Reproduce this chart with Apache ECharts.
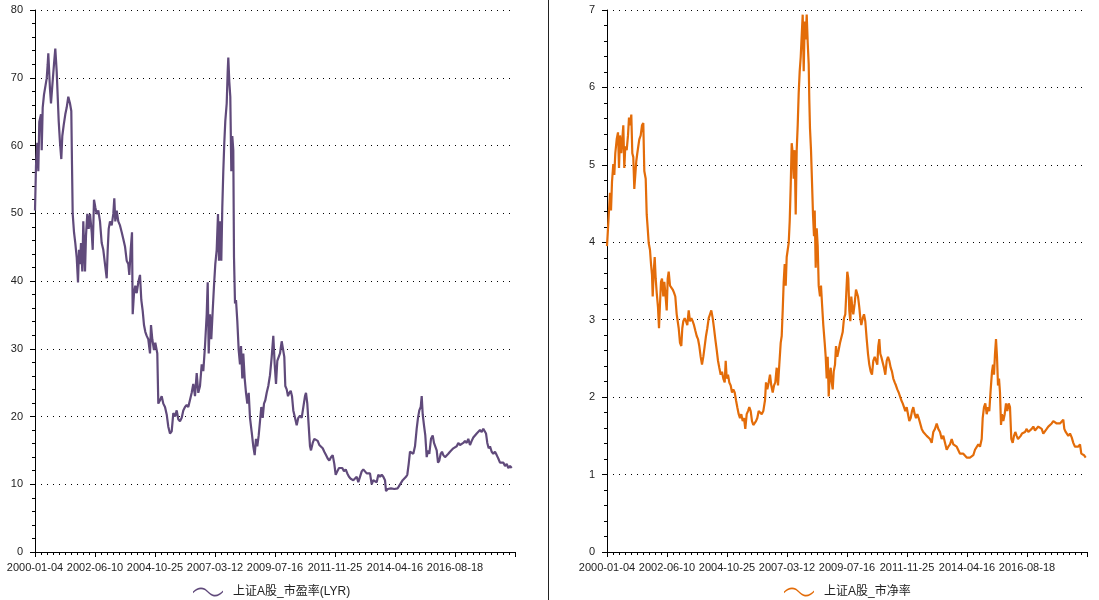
<!DOCTYPE html>
<html><head><meta charset="utf-8">
<script src="https://cdn.jsdelivr.net/npm/echarts@6/dist/echarts.min.js"></script>
<style>html,body{margin:0;padding:0;background:#fff}#c{width:1099px;height:600px}</style>
</head><body><div id="c"></div>
<script>
// x tick labels (trading-day index axis, one label every 600 units)
const tickLabels = ['2000-01-04','2002-06-10','2004-10-25','2007-03-12','2009-07-16','2011-11-25','2014-04-16','2016-08-18'];
const peName = '上证A股_市盈率(LYR)';
const pbName = '上证A股_市净率';
const peColor = '#604A7B';
const pbColor = '#E36C09';

// [time index, PE]
const peData = [[0,50.4],[10,57],[23,60.4],[33,56.2],[43,63.5],[60,64.6],[67,59.3],[77,65.6],[90,67.5],[107,67.7],[117,69.9],[127,72.0],[133,73.6],[143,73.6],[150,68.3],[160,66.2],[173,68.8],[190,72.0],[203,74.3],[217,70.9],[227,71.0],[237,63.6],[250,60.4],[263,58.0],[273,61.4],[287,63.0],[303,64.6],[317,65.6],[333,67.2],[350,66.2],[363,65.1],[370,57.2],[377,49.9],[390,47.2],[403,45.6],[417,43.5],[430,39.8],[440,44.6],[450,42.5],[460,45.6],[473,41.4],[483,48.8],[500,41.4],[510,46.7],[523,49.9],[537,47.7],[550,49.9],[567,47.2],[577,44.6],[590,52.0],[603,50.9],[617,49.9],[633,50.4],[650,48.8],[667,45.6],[683,44.6],[700,42.5],[717,40.4],[727,44.6],[737,47.7],[750,48.8],[767,48.2],[783,49.9],[793,52.2],[803,48.8],[817,50.4],[833,48.8],[850,48.2],[867,47.2],[883,46.2],[900,45.1],[917,43.0],[933,42.5],[943,40.9],[957,44.6],[970,47.2],[977,35.1],[990,38.2],[1003,39.3],[1017,38.2],[1033,39.8],[1050,40.9],[1063,37.2],[1077,35.6],[1090,33.5],[1103,32.5],[1117,31.9],[1133,31.4],[1150,29.3],[1160,33.5],[1173,31.4],[1190,29.8],[1203,30.9],[1223,29.3],[1233,21.9],[1250,22.4],[1267,23.0],[1283,21.9],[1300,21.4],[1317,20.3],[1333,18.5],[1350,17.5],[1367,17.8],[1383,20.5],[1400,20.0],[1417,20.9],[1433,19.6],[1450,19.3],[1467,19.8],[1483,20.9],[1500,21.4],[1517,21.7],[1533,21.4],[1550,21.5],[1567,23.5],[1583,24.8],[1600,23.0],[1617,26.4],[1633,23.5],[1650,24.5],[1667,27.7],[1683,26.7],[1700,30.4],[1717,35.1],[1727,39.8],[1737,29.3],[1750,35.1],[1763,31.4],[1777,35.6],[1790,39.3],[1803,42.5],[1817,44.6],[1830,49.9],[1840,43.0],[1850,48.8],[1863,43.0],[1873,50.9],[1883,56.2],[1893,60.4],[1903,63.6],[1917,66.2],[1927,70.9],[1933,73.0],[1943,69.4],[1953,67.2],[1963,56.2],[1973,61.4],[1983,59.3],[1990,43.5],[2000,36.7],[2010,37.2],[2023,34.1],[2037,29.8],[2050,27.7],[2060,30.4],[2073,25.6],[2083,29.3],[2097,25.6],[2110,23.5],[2123,21.9],[2137,23.5],[2150,19.8],[2167,17.7],[2183,15.6],[2197,14.3],[2210,16.7],[2223,15.6],[2237,17.2],[2250,19.3],[2263,21.4],[2277,19.8],[2290,21.9],[2303,22.4],[2317,23.5],[2333,24.5],[2350,26.1],[2367,28.8],[2383,31.9],[2397,27.7],[2410,24.8],[2423,28.2],[2437,28.2],[2450,29.3],[2467,31.1],[2483,30.9],[2493,28.8],[2503,24.5],[2517,24.0],[2530,23.0],[2543,23.5],[2557,23.8],[2570,23.0],[2583,20.9],[2600,19.8],[2617,18.7],[2633,19.8],[2650,20.1],[2667,19.8],[2683,19.8],[2700,23.0],[2710,23.5],[2723,21.9],[2737,21.7],[2750,15.6],[2760,15.0],[2777,16.1],[2793,16.7],[2810,16.9],[2827,16.4],[2843,15.8],[2860,15.6],[2877,15.3],[2893,14.8],[2910,14.3],[2927,13.8],[2943,13.5],[2960,14.0],[2977,14.3],[2993,13.0],[3007,11.4],[3023,11.9],[3040,12.4],[3057,12.2],[3073,12.4],[3090,11.9],[3107,12.2],[3123,11.6],[3140,11.1],[3157,10.8],[3183,10.6],[3217,11.1],[3233,10.3],[3250,11.1],[3267,11.9],[3283,12.2],[3300,11.9],[3317,11.6],[3333,11.4],[3350,11.6],[3367,10.0],[3383,10.6],[3400,10.8],[3417,10.3],[3433,11.4],[3450,11.1],[3467,11.4],[3483,11.1],[3500,10.6],[3510,9.0],[3527,9.3],[3543,9.2],[3560,9.4],[3577,9.2],[3593,9.3],[3610,9.4],[3627,9.4],[3643,9.8],[3660,10.0],[3677,10.6],[3693,10.6],[3710,11.1],[3723,11.4],[3737,13.0],[3750,14.8],[3767,15.0],[3783,14.5],[3800,15.6],[3817,18.2],[3830,19.8],[3843,20.9],[3857,21.4],[3867,23.0],[3877,20.3],[3890,18.7],[3903,17.2],[3917,14.0],[3930,15.0],[3943,14.5],[3960,16.7],[3977,17.2],[3990,16.1],[4003,16.1],[4017,15.0],[4030,13.2],[4043,13.5],[4057,14.5],[4070,14.8],[4083,14.3],[4100,14.0],[4117,14.0],[4133,14.5],[4150,14.8],[4167,15.0],[4183,15.3],[4200,15.3],[4217,15.6],[4233,16.1],[4250,15.8],[4267,15.7],[4283,16.1],[4300,16.4],[4317,16.1],[4333,16.7],[4350,15.8],[4367,16.4],[4383,16.9],[4400,17.2],[4417,17.5],[4433,17.7],[4450,18.0],[4467,17.7],[4483,18.2],[4500,18.0],[4510,17.5],[4523,16.1],[4537,15.3],[4550,15.6],[4567,14.8],[4583,14.5],[4600,14.8],[4617,14.3],[4633,13.8],[4650,13.2],[4667,13.0],[4683,13.2],[4700,12.7],[4717,13.0],[4733,12.4],[4750,12.7],[4767,12.4]];

// [time index, PB]
const pbData = [[0,3.95],[30,4.64],[40,4.41],[50,4.78],[63,5.01],[73,4.87],[83,5.15],[97,5.33],[110,5.42],[120,4.96],[130,5.38],[143,5.15],[153,5.33],[163,5.51],[173,4.96],[183,5.24],[197,5.19],[210,5.38],[220,5.61],[230,5.51],[243,5.65],[253,5.15],[263,5.10],[273,4.69],[283,4.87],[293,5.05],[303,5.15],[313,5.24],[323,5.33],[337,5.38],[350,5.51],[363,5.54],[373,4.92],[387,4.82],[397,4.36],[407,4.18],[417,3.99],[430,3.90],[440,3.72],[450,3.58],[457,3.30],[467,3.62],[477,3.81],[487,3.53],[497,3.35],[510,3.16],[520,2.89],[530,3.21],[540,3.49],[550,3.53],[563,3.30],[573,3.49],[583,3.35],[597,3.12],[607,3.53],[617,3.62],[630,3.44],[643,3.44],[657,3.39],[670,3.35],[683,3.30],[697,3.07],[707,2.98],[717,2.89],[730,2.70],[743,2.66],[753,2.89],[763,2.98],[777,3.02],[790,2.98],[803,2.93],[817,3.12],[830,2.98],[843,3.02],[857,2.98],[870,2.93],[883,2.86],[897,2.79],[910,2.75],[923,2.66],[937,2.52],[950,2.42],[963,2.52],[977,2.66],[990,2.79],[1003,2.89],[1017,3.02],[1030,3.07],[1043,3.12],[1057,3.02],[1070,2.89],[1083,2.75],[1097,2.61],[1110,2.47],[1123,2.38],[1137,2.29],[1150,2.33],[1163,2.24],[1177,2.19],[1187,2.47],[1197,2.24],[1210,2.29],[1223,2.19],[1237,2.15],[1250,2.06],[1263,2.10],[1277,2.06],[1290,1.96],[1303,1.87],[1317,1.78],[1330,1.73],[1343,1.78],[1357,1.69],[1370,1.73],[1383,1.59],[1397,1.78],[1410,1.82],[1423,1.87],[1437,1.82],[1450,1.69],[1463,1.64],[1477,1.64],[1490,1.69],[1503,1.73],[1517,1.82],[1530,1.82],[1547,1.78],[1563,1.82],[1580,1.96],[1590,2.19],[1603,2.10],[1617,2.19],[1630,2.29],[1643,2.15],[1657,2.06],[1670,2.15],[1683,2.19],[1697,2.38],[1710,2.15],[1723,2.42],[1737,2.70],[1747,2.79],[1757,3.12],[1767,3.49],[1777,3.72],[1787,3.44],[1797,3.81],[1807,3.90],[1817,3.99],[1827,4.27],[1837,4.73],[1847,5.28],[1857,5.15],[1867,4.82],[1877,5.19],[1887,4.36],[1897,5.19],[1907,5.51],[1917,5.93],[1927,6.21],[1937,6.39],[1947,6.67],[1957,6.94],[1967,6.21],[1977,6.85],[1987,6.62],[1997,6.94],[2007,6.58],[2017,6.30],[2023,5.84],[2030,5.47],[2040,5.19],[2050,4.78],[2060,4.36],[2070,4.08],[2077,4.41],[2087,3.67],[2097,4.18],[2107,3.95],[2117,3.44],[2130,3.30],[2140,3.44],[2150,3.21],[2163,2.93],[2177,2.70],[2187,2.52],[2197,2.24],[2207,2.52],[2217,2.01],[2227,2.29],[2237,2.38],[2247,2.19],[2257,2.10],[2267,2.33],[2280,2.42],[2290,2.66],[2303,2.52],[2317,2.61],[2330,2.70],[2343,2.70],[2357,2.84],[2370,3.02],[2383,3.07],[2393,3.35],[2403,3.62],[2413,3.53],[2423,3.12],[2433,2.98],[2443,3.30],[2453,3.16],[2463,3.07],[2477,3.21],[2490,3.39],[2500,3.39],[2510,3.30],[2523,3.16],[2533,3.02],[2543,2.93],[2557,3.02],[2570,3.07],[2583,2.98],[2597,2.75],[2610,2.56],[2623,2.42],[2637,2.33],[2650,2.29],[2663,2.47],[2677,2.52],[2690,2.47],[2703,2.42],[2713,2.66],[2723,2.75],[2733,2.56],[2743,2.52],[2757,2.52],[2770,2.38],[2783,2.29],[2797,2.47],[2810,2.52],[2823,2.47],[2837,2.38],[2850,2.33],[2863,2.24],[2877,2.19],[2890,2.15],[2903,2.10],[2917,2.06],[2930,2.01],[2943,1.96],[2957,1.92],[2970,1.87],[2983,1.82],[2997,1.87],[3010,1.78],[3023,1.69],[3037,1.73],[3050,1.82],[3063,1.87],[3077,1.78],[3090,1.73],[3103,1.78],[3117,1.73],[3130,1.71],[3147,1.59],[3163,1.55],[3180,1.53],[3197,1.50],[3213,1.48],[3230,1.46],[3247,1.41],[3263,1.55],[3280,1.59],[3297,1.66],[3313,1.59],[3330,1.55],[3347,1.46],[3363,1.50],[3380,1.41],[3397,1.32],[3413,1.36],[3430,1.39],[3447,1.46],[3463,1.39],[3480,1.41],[3497,1.36],[3513,1.34],[3530,1.27],[3547,1.29],[3563,1.27],[3580,1.25],[3597,1.22],[3613,1.23],[3630,1.22],[3647,1.23],[3663,1.25],[3680,1.32],[3697,1.34],[3713,1.39],[3730,1.36],[3747,1.46],[3757,1.73],[3770,1.87],[3783,1.92],[3797,1.78],[3810,1.87],[3823,1.82],[3837,2.10],[3850,2.33],[3860,2.42],[3870,2.29],[3880,2.56],[3890,2.75],[3900,2.52],[3910,2.15],[3920,2.24],[3930,2.06],[3940,1.64],[3950,1.78],[3963,1.69],[3977,1.78],[3990,1.92],[4003,1.82],[4017,1.92],[4030,1.87],[4043,1.46],[4057,1.41],[4070,1.50],[4083,1.55],[4097,1.50],[4110,1.46],[4123,1.48],[4137,1.50],[4150,1.53],[4163,1.53],[4180,1.55],[4197,1.59],[4213,1.55],[4230,1.57],[4247,1.59],[4263,1.62],[4280,1.57],[4297,1.55],[4313,1.62],[4330,1.62],[4347,1.59],[4363,1.53],[4380,1.55],[4397,1.59],[4413,1.62],[4430,1.64],[4447,1.66],[4463,1.69],[4480,1.71],[4497,1.66],[4513,1.64],[4530,1.66],[4547,1.64],[4563,1.71],[4573,1.59],[4587,1.55],[4600,1.57],[4613,1.50],[4630,1.53],[4647,1.48],[4663,1.41],[4680,1.36],[4697,1.34],[4713,1.36],[4730,1.39],[4743,1.27],[4757,1.29],[4770,1.25],[4787,1.22]];

const FONT = "'Liberation Sans', 'Noto Sans CJK SC', sans-serif";
const LABEL_STEP = 600;
const waveIcon = 'path://M0,5 C4,1 8,0 12,2 C15,4 17,7 20,8 C24,9 27,7 30,4 L30,5.6 C27,8.6 24,10.6 20,9.6 C17,8.6 15,5.6 12,3.6 C8,1.6 4,2.6 0,6.6 Z M35,5 Z';

function xAxisCfg(gridIndex) {
  return {
    type: 'value', gridIndex, min: 0, max: LABEL_STEP * 8, interval: LABEL_STEP,
    axisLine: { lineStyle: { color: '#000', width: 1 } },
    axisTick: { show: true, length: 5, lineStyle: { color: '#000' } },
    minorTick: { show: true, splitNumber: 10, length: 3, lineStyle: { color: '#000' } },
    splitLine: { show: false },
    axisLabel: {
      margin: 10, color: '#222', fontSize: 11, fontFamily: FONT,
      showMinLabel: true, showMaxLabel: true, hideOverlap: false,
      formatter: v => tickLabels[Math.round(v / LABEL_STEP)] || ''
    }
  };
}
function yAxisCfg(gridIndex, max, interval) {
  return {
    type: 'value', gridIndex, min: 0, max, interval,
    axisLine: { show: true, lineStyle: { color: '#000', width: 1 } },
    axisTick: { show: true, length: 5, lineStyle: { color: '#000' } },
    minorTick: { show: true, splitNumber: 5, length: 3, lineStyle: { color: '#000' } },
    splitLine: { show: true, lineStyle: { color: '#000', width: 1, type: [1, 5] } },
    axisLabel: { margin: 12, color: '#222', fontSize: 11, fontFamily: FONT }
  };
}

const chart = echarts.init(document.getElementById('c'), null, { renderer: 'canvas' });
chart.setOption({
  animation: false,
  backgroundColor: '#fff',
  grid: [
    { left: 35, top: 10, width: 480, height: 542 },
    { left: 607, top: 10, width: 480, height: 542 }
  ],
  xAxis: [xAxisCfg(0), xAxisCfg(1)],
  yAxis: [yAxisCfg(0, 80, 10), yAxisCfg(1, 7, 1)],
  legend: [
    { data: [peName], left: 188, top: 581, icon: waveIcon, itemWidth: 35, itemHeight: 9,
      textStyle: { color: '#222', fontSize: 12, fontFamily: FONT } },
    { data: [pbName], left: 779, top: 581, icon: waveIcon, itemWidth: 35, itemHeight: 9,
      textStyle: { color: '#222', fontSize: 12, fontFamily: FONT } }
  ],
  graphic: [
    { type: 'line', shape: { x1: 548.5, y1: 0, x2: 548.5, y2: 600 }, style: { stroke: '#222', lineWidth: 1 }, silent: true }
  ],
  series: [
    { name: peName, type: 'line', xAxisIndex: 0, yAxisIndex: 0, data: peData, showSymbol: false,
      lineStyle: { color: peColor, width: 2.2 }, itemStyle: { color: peColor } },
    { name: pbName, type: 'line', xAxisIndex: 1, yAxisIndex: 1, data: pbData, showSymbol: false,
      lineStyle: { color: pbColor, width: 2.2 }, itemStyle: { color: pbColor } }
  ]
});
</script>
</body></html>
